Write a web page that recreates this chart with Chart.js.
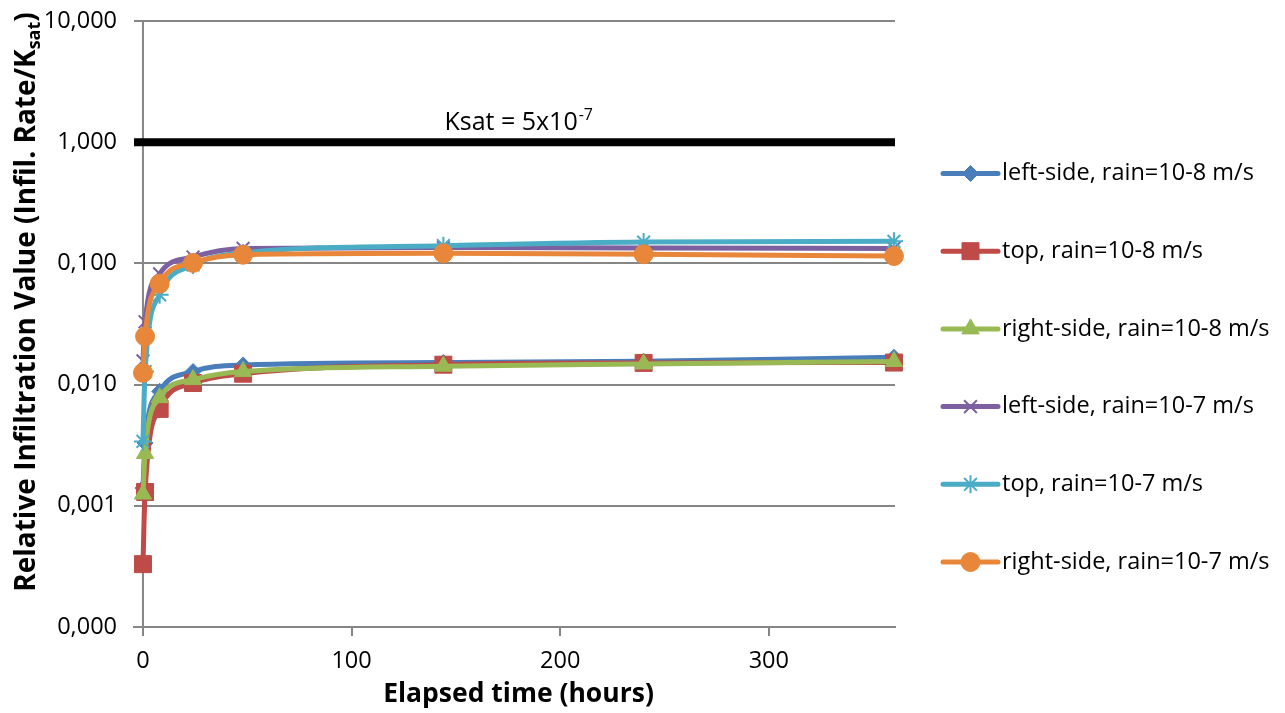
<!DOCTYPE html>
<html>
<head>
<meta charset="utf-8">
<script src="https://cdn.jsdelivr.net/npm/chart.js@4.4.1/dist/chart.umd.min.js"></script>
<style>
  html, body { margin: 0; padding: 0; background: #fff; }
  #wrap { width: 1285px; height: 713px; }
</style>
</head>
<body>
<div id="wrap"><canvas id="chart" width="1285" height="713"></canvas></div>
<script>
// ===== Data
const hours = [0, 1, 8, 24, 48, 144, 240, 360];
const leftSide8  = [0.0014, 0.0033, 0.0088, 0.0128, 0.0145, 0.0152, 0.0156, 0.0168];
const top8       = [0.00033, 0.0013, 0.0063, 0.0103, 0.0123, 0.0146, 0.0151, 0.0152];
const rightSide8 = [0.00125, 0.0027, 0.0078, 0.0110, 0.0128, 0.0142, 0.0148, 0.0155];
const leftSide7  = [0.0157, 0.033, 0.082, 0.113, 0.133, 0.135, 0.134, 0.133];
const top7       = [0.0034, 0.0128, 0.055, 0.097, 0.122, 0.140, 0.150, 0.152];
const rightSide7 = [0.0125, 0.025, 0.068, 0.101, 0.118, 0.121, 0.119, 0.115];

const xTicks = [0, 100, 200, 300];
const yTicks = [0.0001, 0.001, 0.01, 0.1, 1, 10];
const xMin = -4.3, xMax = 360.5;
const ksatX = [xMin, xMax];
const ksatY = [1, 1];

const FONT = "'Open Sans', sans-serif";
const GRID = '#868686';

const series = [
  { label: 'left-side, rain=10-8 m/s',  data: leftSide8,  color: '#4A7EBB', style: 'rectRot',  r: 8 },
  { label: 'top, rain=10-8 m/s',        data: top8,       color: '#BE4B48', style: 'rect',     r: 12 },
  { label: 'right-side, rain=10-8 m/s', data: rightSide8, color: '#98B954', style: 'triangle', r: 10 },
  { label: 'left-side, rain=10-7 m/s',  data: leftSide7,  color: '#7D60A0', style: 'crossRot', r: 9 },
  { label: 'top, rain=10-7 m/s',        data: top7,       color: '#4BACC6', style: 'star',     r: 9 },
  { label: 'right-side, rain=10-7 m/s', data: rightSide7, color: '#E8873A', style: 'circle',   r: 9.5 }
];

const isStroke = s => s === 'crossRot' || s === 'star';

const datasets = series.map((s, i) => ({
  label: s.label,
  data: hours.map((h, k) => ({ x: h, y: s.data[k] })),
  borderColor: s.color,
  backgroundColor: s.color,
  borderWidth: 5,
  pointStyle: s.style,
  pointRadius: s.r,
  pointHoverRadius: s.r,
  pointBorderWidth: isStroke(s.style) ? 2 : 1,
  pointBackgroundColor: s.color,
  pointBorderColor: s.color,
  cubicInterpolationMode: 'monotone',
  order: series.length - i, // later series on top, like the original
  clip: false
}));

datasets.push({
  label: 'Ksat',
  data: ksatX.map((x, k) => ({ x, y: ksatY[k] })),
  borderColor: '#000',
  borderWidth: 8,
  pointRadius: 0,
  order: 20
});

// ===== Extra drawing: axis at x=0, titles, Ksat label, legend
const decor = {
  id: 'decor',
  beforeDatasetsDraw(chart) {
    const { ctx, chartArea, scales: { x } } = chart;
    const px = x.getPixelForValue(0);
    ctx.save();
    ctx.strokeStyle = GRID;
    ctx.lineWidth = 2;
    ctx.beginPath();
    ctx.moveTo(px, chartArea.top);
    ctx.lineTo(px, chartArea.bottom);
    ctx.stroke();
    ctx.restore();
  },
  afterDraw(chart) {
    const { ctx, chartArea, scales: { x, y } } = chart;
    ctx.save();
    ctx.fillStyle = '#000';

    // Ksat label
    const kx = x.getPixelForValue(144.5), ky = y.getPixelForValue(1) - 12;
    ctx.font = `25px ${FONT}`;
    ctx.textAlign = 'left';
    ctx.textBaseline = 'alphabetic';
    const main = 'Ksat = 5x10';
    ctx.fillText(main, kx, ky);
    const mw = ctx.measureText(main).width;
    ctx.font = `16px ${FONT}`;
    ctx.fillText('-7', kx + mw + 1, ky - 10);

    // x title
    ctx.font = `bold 26.5px ${FONT}`;
    ctx.textAlign = 'center';
    ctx.textBaseline = 'middle';
    ctx.fillText('Elapsed time (hours)', (chartArea.left + chartArea.right) / 2 + 4, 694);

    // y title with subscript
    ctx.save();
    ctx.translate(27, 302);
    ctx.rotate(-Math.PI / 2);
    const t1 = 'Relative Infiltration Value (Infil. Rate/K', t2 = 'sat', t3 = ')';
    const big = `bold 28px ${FONT}`, small = `bold 18px ${FONT}`;
    ctx.font = big;
    const w1 = ctx.measureText(t1).width, w3 = ctx.measureText(t3).width;
    ctx.font = small;
    const w2 = ctx.measureText(t2).width;
    const sx = -(w1 + w2 + w3) / 2;
    ctx.textAlign = 'left';
    ctx.textBaseline = 'middle';
    ctx.font = big;
    ctx.fillText(t1, sx, 0);
    ctx.font = small;
    ctx.fillText(t2, sx + w1, 8);
    ctx.font = big;
    ctx.fillText(t3, sx + w1 + w2, 0);
    ctx.restore();

    // legend
    const lx0 = chartArea.right + 48, lx1 = chartArea.right + 103;
    const ly0 = 173.5, step = 77.7;
    series.forEach((s, i) => {
      const ly = ly0 + i * step;
      ctx.strokeStyle = s.color;
      ctx.fillStyle = s.color;
      ctx.lineWidth = 5;
      ctx.lineCap = 'round';
      ctx.beginPath();
      ctx.moveTo(lx0, ly);
      ctx.lineTo(lx1, ly);
      ctx.stroke();
      ctx.lineCap = 'butt';
      ctx.lineWidth = isStroke(s.style) ? 2 : 1;
      if (Chart.helpers && Chart.helpers.drawPoint) {
        Chart.helpers.drawPoint(ctx, { pointStyle: s.style, radius: s.r, rotation: 0, borderWidth: ctx.lineWidth }, (lx0 + lx1) / 2, ly);
      }
      ctx.fillStyle = '#000';
      ctx.font = `23.5px ${FONT}`;
      ctx.textAlign = 'left';
      ctx.textBaseline = 'middle';
      ctx.fillText(s.label, lx1 + 4, ly);
    });
    ctx.restore();
  }
};

new Chart(document.getElementById('chart'), {
  type: 'line',
  data: { datasets },
  options: {
    responsive: false,
    animation: false,
    layout: { padding: { top: 21, right: 390, left: 0, bottom: 0 } },
    plugins: { legend: { display: false }, tooltip: { enabled: false } },
    scales: {
      x: {
        type: 'linear',
        min: xMin,
        max: xMax,
        afterBuildTicks: s => { s.ticks = xTicks.map(v => ({ value: v })); },
        afterFit: s => { s.height = 86; s.paddingLeft = 0; s.paddingRight = 0; },
        grid: { drawOnChartArea: false, drawTicks: true, tickLength: 9, color: GRID, lineWidth: 2 },
        border: { display: true, color: GRID, width: 2 },
        ticks: { font: { family: FONT, size: 23.5 }, color: '#000', padding: 11, maxRotation: 0 }
      },
      y: {
        type: 'logarithmic',
        min: 0.0001,
        max: 10,
        afterBuildTicks: s => { s.ticks = yTicks.map(v => ({ value: v })); },
        afterFit: s => { s.width = 134; s.paddingTop = 0; s.paddingBottom = 0; },
        grid: { drawTicks: false, color: GRID, lineWidth: 2 },
        border: { display: false },
        ticks: {
          font: { family: FONT, size: 23.5 },
          color: '#000',
          padding: 17,
          callback: v => Number(v).toFixed(3).replace('.', ',')
        }
      }
    }
  },
  plugins: [decor]
});
</script>
</body>
</html>
